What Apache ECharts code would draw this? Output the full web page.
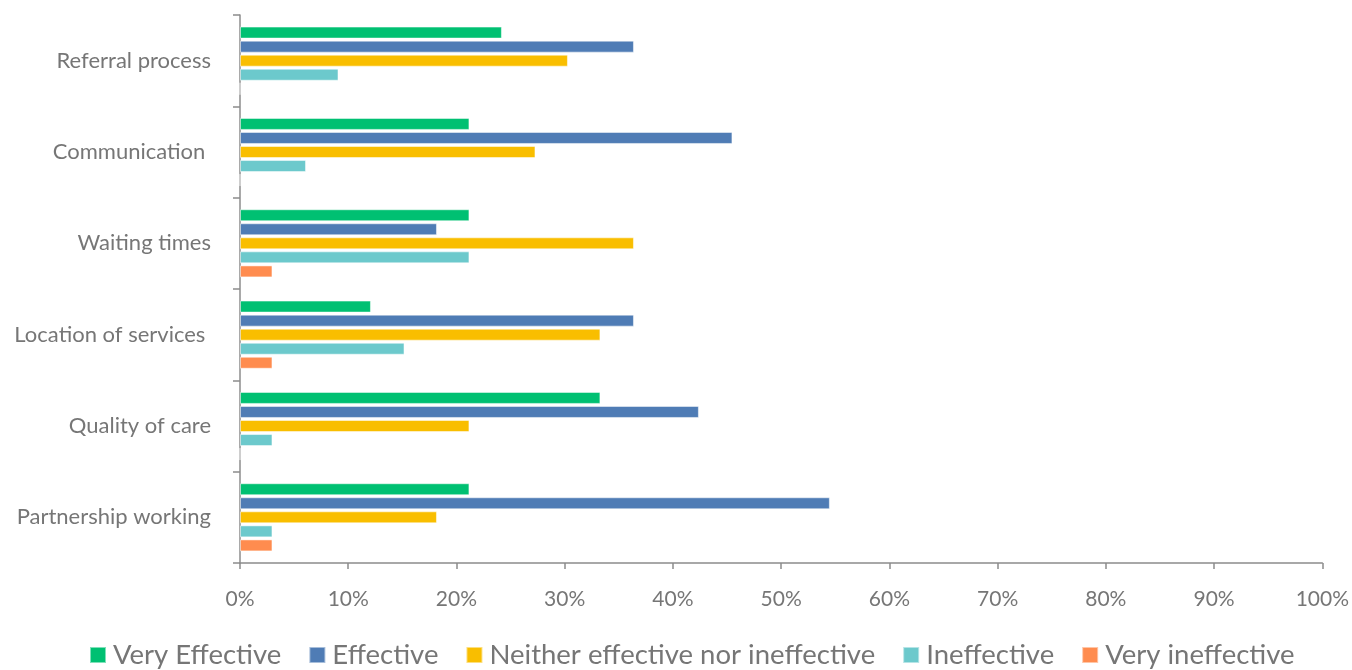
<!DOCTYPE html>
<html>
<head>
<meta charset="utf-8">
<script src="https://cdn.jsdelivr.net/npm/echarts@6/dist/echarts.min.js"></script>
<style>
html,body{margin:0;padding:0;background:#fff;}
#chart{width:1352px;height:670px;}
</style>
</head>
<body>
<div id="chart"></div>
<script>
const categories = ["Referral process", "Communication ", "Waiting times", "Location of services ", "Quality of care", "Partnership working"];
const seriesNames = ["Very Effective", "Effective", "Neither effective nor ineffective", "Ineffective", "Very ineffective"];
const veryEffective = [24.2, 21.2, 21.2, 12.1, 33.3, 21.2];
const effective = [36.4, 45.5, 18.2, 36.4, 42.4, 54.5];
const neither = [30.3, 27.3, 36.4, 33.3, 21.2, 18.2];
const ineffective = [9.1, 6.1, 21.2, 15.2, 3.0, 3.0];
const veryIneffective = [0, 0, 3.0, 3.0, 0, 3.0];
const xTicks = [0, 10, 20, 30, 40, 50, 60, 70, 80, 90, 100];

const colors = ["#00C072", "#4F7CB5", "#F9BE00", "#6CC9CC", "#FF8C4F"];
const allData = [veryEffective, effective, neither, ineffective, veryIneffective];

const chart = echarts.init(document.getElementById('chart'), null, {renderer: 'canvas'});
const font = 'Lato, "Open Sans", sans-serif';
chart.setOption({
  animation: false,
  color: colors,
  grid: {left: 240, right: 28, top: 15, bottom: 107, containLabel: false},
  legend: {
    bottom: -4,
    left: 84,
    itemWidth: 16,
    itemHeight: 16,
    itemGap: 27,
    icon: 'rect',
    textStyle: {color: '#767676', fontSize: 27.5, fontFamily: font, padding: [0, 0, 0, 2]},
    data: seriesNames
  },
  xAxis: {
    type: 'value',
    min: xTicks[0],
    max: xTicks[xTicks.length - 1],
    interval: 10,
    axisLine: {show: true, lineStyle: {color: '#8C8C8C', width: 1.5}},
    axisTick: {show: true, length: 6, lineStyle: {color: '#8C8C8C', width: 1.5}},
    splitLine: {show: false},
    axisLabel: {color: '#767676', fontSize: 21, fontFamily: font, margin: 26, formatter: '{value}%'}
  },
  yAxis: {
    type: 'category',
    inverse: true,
    data: categories,
    axisLine: {show: true, lineStyle: {color: '#8C8C8C', width: 1.5}},
    axisTick: {show: true, length: 7, lineStyle: {color: '#8C8C8C', width: 1.5}},
    axisLabel: {color: '#767676', fontSize: 22, fontFamily: font, margin: 29}
  },
  series: seriesNames.map((n, i) => ({
    name: n,
    type: 'bar',
    data: allData[i],
    barWidth: 12,
    barGap: '17%',
    itemStyle: {color: colors[i], borderColor: 'rgba(255,255,255,0.5)', borderWidth: 1}
  }))
});
</script>
</body>
</html>
